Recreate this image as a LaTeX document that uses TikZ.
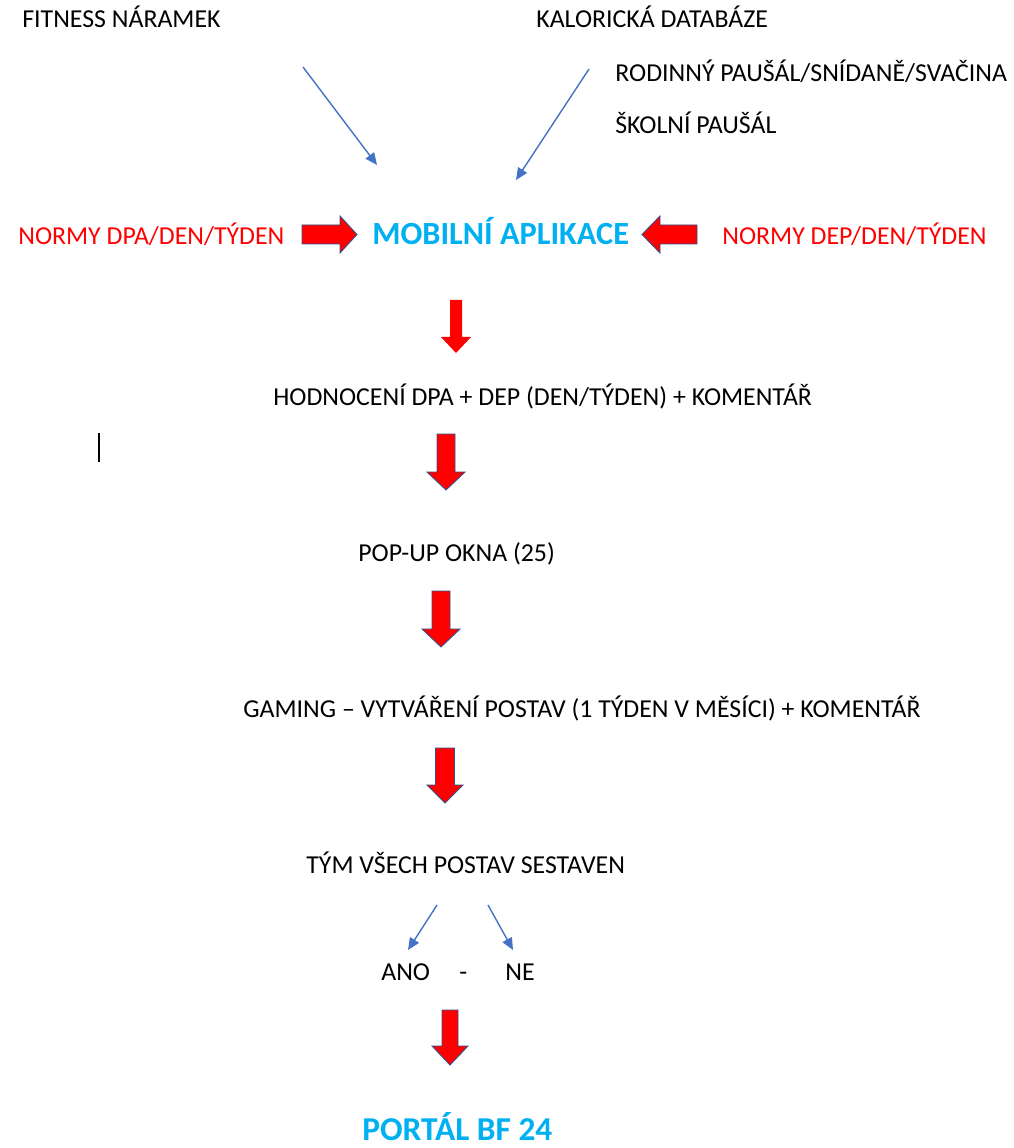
\documentclass[tikz,border=0pt]{standalone}
\usepackage{fontspec}
\setmainfont{Carlito}
\usepackage{xcolor}
\usetikzlibrary{arrows.meta}
\definecolor{headblue}{HTML}{00B0F0}
\definecolor{thinblue}{HTML}{4472C4}
\definecolor{arrowedge}{HTML}{2F528F}
\def\normal{\fontsize{14.7}{17}\selectfont}
\def\big{\fontsize{18.4}{22}\selectfont\bfseries}
% block arrows: back, head start, tip, centre, half shaft, half head
\newcommand{\vblockarrow}[6]{%
  \fill[red,draw=arrowedge,line width=0.5pt] ({#4-#5},#1) -- ({#4+#5},#1) -- ({#4+#5},#2)
    -- ({#4+#6},#2) -- (#4,#3) -- ({#4-#6},#2) -- ({#4-#5},#2) -- cycle;}
\newcommand{\hblockarrow}[6]{%
  \fill[red,draw=arrowedge,line width=0.5pt] (#1,{#4-#5}) -- (#1,{#4+#5}) -- (#2,{#4+#5})
    -- (#2,{#4+#6}) -- (#3,#4) -- (#2,{#4-#6}) -- (#2,{#4-#5}) -- cycle;}

\begin{document}
\begin{tikzpicture}[x=0.02cm,y=-0.02cm,
    txt/.style={anchor=base west,inner sep=0pt,font=\normal},
    redtxt/.style={txt,text=red},
    bigtxt/.style={anchor=base west,inner sep=0pt,font=\big,text=headblue},
    thin arrow/.style={thinblue,line width=0.8pt,-{Triangle[length=2.4mm,width=2.1mm]}}]
    \useasboundingbox (0,0) rectangle (1013,1148);
    % top sources
    \node[txt] (fitness) at (22,28) {FITNESS NÁRAMEK};
    \node[txt] (kalorie) at (536,28) {KALORICKÁ DATABÁZE};
    \node[txt] (rodina) at (615,82) {RODINNÝ PAUŠÁL/SNÍDANĚ/SVAČINA};
    \node[txt] (skola) at (615,134) {ŠKOLNÍ PAUŠÁL};
    \coordinate (f1) at (303,67);
    \coordinate (f2) at (377,165);
    \coordinate (k1) at (589,69);
    \coordinate (k2) at (516,180);
    \draw[thin arrow] (f1) -- (f2);
    \draw[thin arrow] (k1) -- (k2);
    % app row
    \node[redtxt] (dpa) at (18,245) {NORMY DPA/DEN/TÝDEN};
    \node[bigtxt] (app) at (372,245) {MOBILNÍ APLIKACE};
    \node[redtxt] (dep) at (722,245) {NORMY DEP/DEN/TÝDEN};
    \hblockarrow{302}{340}{357}{234.5}{9.5}{18.5}
    \hblockarrow{697}{660}{642}{234.5}{9.5}{18.5}
    % flow down
    \fill[red] (450,300) -- (462,300) -- (462,337) -- (471,337) -- (456,353) -- (441,337) -- (450,337) -- cycle;
    \node[txt] (hodnoceni) at (273,405) {HODNOCENÍ DPA + DEP (DEN/TÝDEN) + KOMENTÁŘ};
    \draw[line width=0.7pt] (99,433) -- (99,462);
    \vblockarrow{434}{472}{490}{446}{9}{19}
    \node[txt] (popup) at (358,561) {POP-UP OKNA (25)};
    \vblockarrow{591}{629}{647}{441}{9}{19}
    \node[txt] (gaming) at (243,717) {GAMING – VYTVÁŘENÍ POSTAV (1 TÝDEN V MĚSÍCI) + KOMENTÁŘ};
    \vblockarrow{748}{785}{803}{445}{9.5}{18}
    \node[txt] (tym) at (306,873) {TÝM VŠECH POSTAV SESTAVEN};
    \coordinate (a1) at (437,905);
    \coordinate (a2) at (408,950);
    \coordinate (n1) at (488,905);
    \coordinate (n2) at (513,950);
    \draw[thin arrow] (a1) -- (a2);
    \draw[thin arrow] (n1) -- (n2);
    \node[txt] (ano) at (381,980) {ANO};
    \node[txt] (pomlcka) at (459,980) {-};
    \node[txt] (ne) at (505,980) {NE};
    \vblockarrow{1010}{1046}{1065}{450}{8}{18}
    \node[bigtxt,font=\fontsize{19}{22}\selectfont\bfseries] (portal) at (362,1140) {PORTÁL BF 24};
\end{tikzpicture}
\end{document}
